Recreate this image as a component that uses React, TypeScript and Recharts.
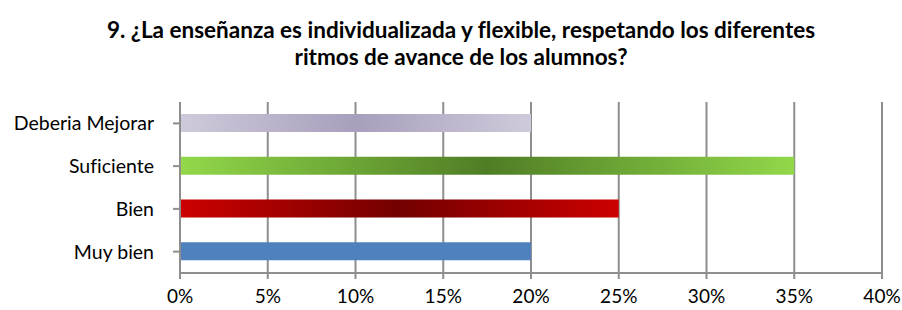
import React from "react";
import { BarChart, Bar, XAxis, YAxis, CartesianGrid, Cell } from "recharts";

const categories = ["Deberia Mejorar", "Suficiente", "Bien", "Muy bien"];
const shares = [0.2, 0.35, 0.25, 0.2];
const xTicks = [0, 0.05, 0.1, 0.15, 0.2, 0.25, 0.3, 0.35, 0.4];

const data = categories.map((name, i) => ({ name, value: shares[i] }));

// edge colour / centre colour for each bar's horizontal gradient
const GRADIENTS: Record<string, [string, string]> = {
  "Deberia Mejorar": ["#cfcadb", "#a89fbc"],
  Suficiente: ["#92d84a", "#4f7d25"],
  Bien: ["#cc0000", "#730000"],
  "Muy bien": ["#4f81bd", "#4f81bd"],
};

const FONT = "Lato, 'Open Sans', sans-serif";
const AXIS = "#8e8e8e";

const pct = (v: number) => `${Math.round(v * 100)}%`;

export default function App() {
  return (
    <div
      style={{
        position: "absolute",
        left: 0,
        top: 0,
        width: 902,
        height: 310,
        background: "#fff",
        fontFamily: FONT,
        fontVariantLigatures: "none",
      }}
    >
      <div
        style={{
          position: "absolute",
          left: 0,
          top: 16,
          width: 922,
          textAlign: "center",
          fontWeight: 700,
          fontSize: 22.5,
          lineHeight: "27px",
          color: "#000",
        }}
      >
        9. ¿La enseñanza es individualizada y flexible, respetando los diferentes
        <br />
        ritmos de avance de los alumnos?
      </div>
      <BarChart
        width={902}
        height={310}
        data={data}
        layout="vertical"
        margin={{ top: 102, right: 20, bottom: 0, left: 0 }}
      >
        <defs>
          {categories.map((c, i) => (
            <linearGradient key={c} id={`g${i}`} x1="0" y1="0" x2="1" y2="0">
              <stop offset="0%" stopColor={GRADIENTS[c][0]} />
              <stop offset="50%" stopColor={GRADIENTS[c][1]} />
              <stop offset="100%" stopColor={GRADIENTS[c][0]} />
            </linearGradient>
          ))}
        </defs>
        <CartesianGrid
          horizontal={false}
          stroke={AXIS}
          strokeWidth={2}
          verticalValues={xTicks}
        />
        <XAxis
          type="number"
          domain={[0, 0.4]}
          ticks={xTicks}
          tickFormatter={pct}
          height={37}
          tickSize={6}
          tickMargin={11}
          axisLine={{ stroke: AXIS, strokeWidth: 2 }}
          tickLine={{ stroke: AXIS, strokeWidth: 2 }}
          tick={{ fontSize: 19, fill: "#000", fontFamily: FONT }}
          interval={0}
        />
        <YAxis
          type="category"
          dataKey="name"
          width={180}
          tickSize={7}
          tickMargin={19}
          axisLine={{ stroke: AXIS, strokeWidth: 2 }}
          tickLine={{ stroke: AXIS, strokeWidth: 2 }}
          tick={{ fontSize: 19.5, fill: "#000", fontFamily: FONT }}
          interval={0}
        />
        <Bar dataKey="value" barSize={18} isAnimationActive={false}>
          {data.map((d, i) => (
            <Cell key={d.name} fill={`url(#g${i})`} />
          ))}
        </Bar>
      </BarChart>
    </div>
  );
}
